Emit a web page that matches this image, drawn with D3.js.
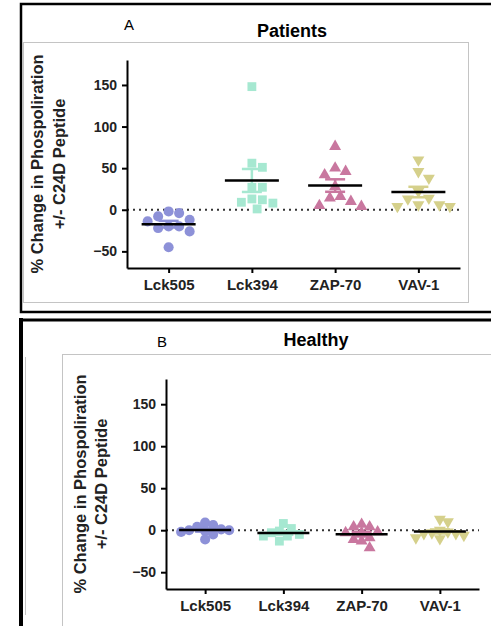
<!DOCTYPE html>
<html>
<head>
<meta charset="utf-8">
<script src="https://cdn.jsdelivr.net/npm/d3@7"></script>
<style>
  body { margin: 0; background: #fff; }
  text { font-family: "Liberation Sans", Arial, sans-serif; }
</style>
</head>
<body>
<script>
const categories = ["Lck505", "Lck394", "ZAP-70", "VAV-1"]
const yTicks = [-50, 0, 50, 100, 150]

// patients (panel A)
const patientsLck505 = [-4, -2, -8, -12, -22, -26, -20, -14, -20, -45]
const patientsLck394 = [148, 51, 56, 27, 27, 13, 9, 8, 12, 1]
const patientsZap70 = [76, 50, 46, 42, 28, 16, 14, 10, 5, 4]
const patientsVav1 = [60, 46, 38, 22, 14, 13, 6, 4, 4, 6]

// healthy (panel B)
const healthyLck505 = [4, 9, 6, -11, -5, 1, 0, -2, 0, -1]
const healthyLck394 = [8, 2, -1, -3, -7, -13, -7, -5]
const healthyZap70 = [4, 7, 4, -21, -13, -11, -9, -3, -3, -2]
const healthyVav1 = [13, 10, 0, -10, -9, -4, -3, -4, -2, -6]

const colors = ["#8d91d8", "#a6e8d1", "#c9779f", "#d5d08b"]
const shapes = [d3.symbolCircle, d3.symbolSquare, d3.symbolTriangle, d3.symbolTriangle]
const sizes = [80, 78, 62, 62]
const font = '"Liberation Sans", Arial, sans-serif'

const svg = d3.select("body").append("svg")
    .attr("width", 491)
    .attr("height", 626)

// frames
svg.append("rect").attr("x", 21).attr("y", 4).attr("width", 490).attr("height", 308)
    .attr("fill", "none").attr("stroke", "#000").attr("stroke-width", 2.5)
svg.append("rect").attr("x", 23.5).attr("y", 42.5).attr("width", 445).attr("height", 260)
    .attr("fill", "none").attr("stroke", "#c4c4c4").attr("stroke-width", 1)
svg.append("rect").attr("x", 21).attr("y", 320).attr("width", 490).attr("height", 320)
    .attr("fill", "none").attr("stroke", "#000").attr("stroke-width", 3)
svg.append("line").attr("x1", 21).attr("x2", 21).attr("y1", 318).attr("y2", 626)
    .attr("stroke", "#000").attr("stroke-width", 4)
svg.append("rect").attr("x", 62.5).attr("y", 354.5).attr("width", 440).attr("height", 300)
    .attr("fill", "none").attr("stroke", "#c4c4c4").attr("stroke-width", 1)
svg.append("line").attr("x1", 25.5).attr("x2", 25.5).attr("y1", 357).attr("y2", 615)
    .attr("stroke", "#c4c4c4").attr("stroke-width", 1)

// simple beeswarm so points spread sideways like the scatter dot plot
function swarm(values, y, cx, d) {
    const placed = []
    const order = values.map((v, i) => i).sort((a, b) => values[b] - values[a])
    order.forEach(function(i) {
        const py = y(values[i])
        let off = 0
        for (let k = 0; k < 60; k++) {
            const cand = k === 0 ? 0 : (k % 2 ? 1 : -1) * Math.ceil(k / 2) * d * 0.5
            if (placed.every(p => Math.hypot(p.x - (cx + cand), p.y - py) >= d)) { off = cand; break }
        }
        placed.push({x: cx + off, y: py})
    })
    return placed
}

function drawPanel(p) {
    const g = svg.append("g")

    const y = d3.scaleLinear().domain([-70, 180]).range([p.bottom, p.top])
    const x = d3.scalePoint().domain(categories).range([p.left, p.right]).padding(0.5)

    g.append("text")
        .attr("x", p.letterX).attr("y", p.letterY)
        .attr("text-anchor", "middle")
        .attr("font-size", 15)
        .text(p.letter)

    g.append("text")
        .attr("x", p.titleX).attr("y", p.titleY)
        .attr("text-anchor", "middle")
        .attr("font-size", 18)
        .attr("font-weight", "bold")
        .text(p.title)

    // y axis title, two lines
    const lines = ["% Change in Phospoliration", "+/- C24D Peptide"]
    lines.forEach(function(t, i) {
        g.append("text")
            .attr("transform", "translate(" + p.labelX[i] + "," + p.labelY + ") rotate(-90)")
            .attr("text-anchor", "middle")
            .attr("font-size", 16.5)
            .attr("font-weight", "bold")
            .attr("fill", "#222")
            .text(t)
    })

    // zero line
    g.append("line")
        .attr("x1", p.left).attr("x2", p.right)
        .attr("y1", y(0)).attr("y2", y(0))
        .attr("stroke", "#333").attr("stroke-width", 2)
        .attr("stroke-dasharray", "2,4")

    const yAxis = g.append("g")
        .attr("transform", "translate(" + p.left + ",0)")
        .call(d3.axisLeft(y).tickValues(yTicks).tickSize(5).tickSizeOuter(0).tickPadding(5))
    const xAxis = g.append("g")
        .attr("transform", "translate(0," + p.bottom + ")")
        .call(d3.axisBottom(x).tickSize(5).tickSizeOuter(0).tickPadding(6))

    yAxis.select(".domain").attr("stroke-width", 2)
    xAxis.select(".domain").attr("stroke-width", 2)
    yAxis.selectAll(".tick line").attr("stroke-width", 2)
    xAxis.selectAll(".tick line").attr("stroke-width", 2)
    yAxis.selectAll(".tick text")
        .attr("font-family", font).attr("font-size", 14).attr("font-weight", "bold").attr("fill", "#222")
    xAxis.selectAll(".tick text")
        .attr("font-family", font).attr("font-size", 15).attr("font-weight", "bold").attr("fill", "#222")

    p.series.forEach(function(vals, i) {
        const cx = x(categories[i])
        const pts = swarm(vals, y, cx, p.spread)
        const sym = d3.symbol().type(shapes[i]).size(sizes[i])

        g.selectAll(".pt" + i)
            .data(pts)
            .enter()
            .append("path")
                .attr("class", "pt" + i)
                .attr("d", sym)
                .attr("fill", colors[i])
                .attr("transform", function(d) {
                    return "translate(" + d.x + "," + d.y + ")" + (i === 3 ? " rotate(180)" : "")
                })

        const mean = d3.mean(vals)
        const sem = d3.deviation(vals) / Math.sqrt(vals.length)

        // sem bars in series colour
        const eb = g.append("g").attr("stroke", colors[i]).attr("stroke-width", 2.5)
        eb.append("line").attr("x1", cx).attr("x2", cx).attr("y1", y(mean - sem)).attr("y2", y(mean + sem))
        eb.append("line").attr("x1", cx - 10).attr("x2", cx + 10).attr("y1", y(mean + sem)).attr("y2", y(mean + sem))
        eb.append("line").attr("x1", cx - 10).attr("x2", cx + 10).attr("y1", y(mean - sem)).attr("y2", y(mean - sem))

        // mean line
        g.append("line")
            .attr("x1", cx - p.meanHalf).attr("x2", cx + p.meanHalf)
            .attr("y1", y(mean)).attr("y2", y(mean))
            .attr("stroke", "#000").attr("stroke-width", 2.5)
    })
}

drawPanel({
    left: 127, right: 460, top: 60, bottom: 268,
    letter: "A", letterX: 129, letterY: 30,
    title: "Patients", titleX: 292, titleY: 37,
    labelX: [42.5, 64.5], labelY: 164,
    meanHalf: 27, spread: 10.5,
    series: [patientsLck505, patientsLck394, patientsZap70, patientsVav1]
})

drawPanel({
    left: 166, right: 479, top: 379, bottom: 589,
    letter: "B", letterX: 162, letterY: 347,
    title: "Healthy", titleX: 316, titleY: 346,
    labelX: [85.5, 106.5], labelY: 484,
    meanHalf: 26, spread: 8,
    series: [healthyLck505, healthyLck394, healthyZap70, healthyVav1]
})
</script>
</body>
</html>
